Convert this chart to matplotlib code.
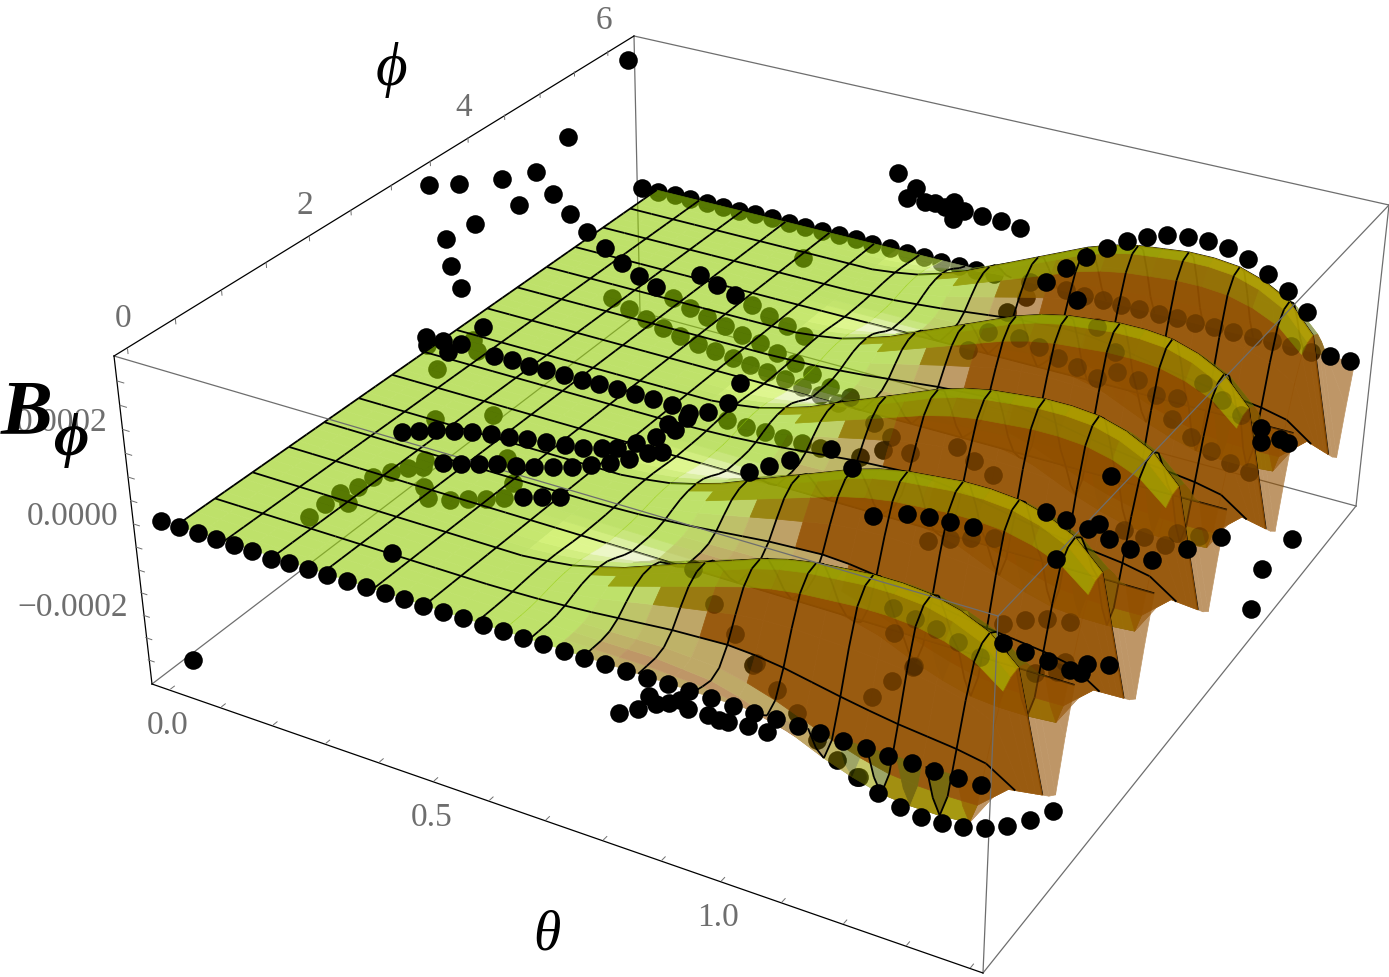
import numpy as np
import matplotlib
matplotlib.use("Agg")
import matplotlib.pyplot as plt
from matplotlib.collections import PolyCollection, LineCollection

# box limits of the plot
theta_lim = [-0.04, 1.42]
phi_lim = [-0.13, 6.41]
b_lim = [-0.00035, 0.00035]

# where the box corners sit on the page (theta, phi, B) -> (x, y)
box_world = [(0, 0, 1), (0, 1, 1), (1, 1, 1), (1, 0, 1), (0, 0, 0), (1, 0, 0), (1, 1, 0), (0, 1, 0)]
box_page = [(114, 356), (634, 36), (1389, 205), (998, 616), (152, 684), (983, 973), (1356, 506), (640, 312)]

# surface values (units of 1e-4)
theta_nodes = np.linspace(0.02, 1.40, 31)
ridge_b = [0, 0, 0, 0, 0, 0, 0, 0, 0, 0, 0, 0, 0.05, 0.12, 0.25, 0.4, 0.6, 0.8, 1.0, 1.2, 1.4, 1.55, 1.65, 1.7, 1.75, 1.75, 1.7, 1.55, 1.3, 0.8, 0]
valley_b = [0, 0, 0, 0, 0, 0, 0, 0, 0, 0, 0, 0, 0, 0, 0, 0, 0, 0, 0, -0.05, -0.1, -0.25, -0.45, -0.7, -0.95, -1.15, -1.3, -1.35, -1.35, -1.3, 0]
ridge_w = [0, 0, 0, 0.06, 0.25, 0.55, 0.82, 0.97, 1, 0.9, 0.6, 0.25]
valley_w = [0, 0.6, 1, 0.9, 0.5, 0.2, 0, 0, 0, 0, 0, 0]
lobe_height = [1.03, 1.1, 1.14, 1.18, 1.24]
edge_b = [0, -0.2, -0.4, -0.6, -0.8, -1.0, -1.2, -1.4, -1.6, -1.8, -1.95, -0.9]  # last theta row, one lobe
deep_from = {14: 7, 15: 6, 16: 6, 17: 5, 18: 5, 19: 4, 20: 4, 21: 3, 22: 3, 23: 3, 24: 3, 25: 3, 26: 2, 27: 2, 28: 2}  # start of the dark part of a lobe, by theta row

theta_ticks = [0.0, 0.5, 1.0]
phi_ticks = [0, 2, 4, 6]
b_ticks = [-0.0002, 0.0, 0.0002]
b_tick_labels = ["\u22120.0002", "0.0000", "0.0002"]

# dots on top of the surface, page positions
front_row = [(161,521),(179,527),(198,533),(216,539),(234,545),(252,551),(271,559),(289,563),(308,569),(327,575),(347,581),(366,587),(385,593),(404,599),(423,606),(443,612),(463,618),(483,625),(503,631),(523,638),(543,644),(564,651),(584,658),(605,664),(626,671),(647,678),(668,684),(689,691),(711,698),(733,706),(754,713),(776,719),(798,726),(820,733),(843,741),(866,748),(888,756),(912,763),(934,771),(958,778),(981,785)]
low_curve = [(878,793),(900,807),(921,817),(942,823),(963,827),(985,828),(1007,826),(1030,820),(1053,811)]
cluster = [(619,713),(638,709),(649,696),(656,704),(669,703),(680,700),(688,709),(708,715),(719,720),(728,722),(748,726),(767,732)]
loose_left = [(628,60),(568,137),(429,185),(459,184),(502,179),(536,172),(553,194),(519,205),(570,214),(475,224),(446,239),(451,266),(461,288),(193,660),(392,553),(483,327),(426,337),(443,341),(461,344),(448,352)]
loose_right = [(898,173),(916,188),(907,198),(925,202),(935,203),(945,207),(954,202),(964,211),(953,219),(982,216),(1001,221),(1020,228)]
back_tail = [(1046,282),(1066,268),(1086,257),(1107,248),(1127,241),(1147,237),(1167,235),(1188,237),(1208,241),(1228,248),(1248,259),(1268,274),(1288,291),(1307,312),(1330,356),(1350,361),(1077,300)]
row_a = [(587,232),(605,248),(622,263),(639,276),(656,287),(700,275),(717,285),(735,295)]
row_b = [(494,356),(512,360),(529,366),(546,370),(564,375),(582,380),(599,384),(617,389),(635,394),(653,399),(672,405),(740,383),(728,403),(708,412),(689,413),(687,418),(668,424),(675,430)]
row_c = [(402,432),(419,431),(436,430),(454,431),(472,432),(491,434),(509,437),(527,439),(546,442),(565,445),(583,448),(602,448),(617,448),(636,443),(656,437),(662,452),(648,453)]
row_d = [(443,463),(461,464),(479,464),(497,464),(516,466),(534,467),(553,467),(572,467),(591,465),(610,463),(629,459),(523,497),(542,497),(560,497)]
lobe_black = [(749,472),(769,466),(790,460),(831,449),(852,468),(873,516),(907,514),(929,517),(950,522),(973,527),(1046,512),(1066,520),(1088,529),(1099,524),(1109,539),(1130,549),(1152,560),(1187,549),(1221,537),(1111,476),(1056,559),(1003,643),(1025,652),(1048,661),(1070,670),(1081,673),(1087,664),(1109,665),(1261,428),(1261,442),(1280,439),(1288,443),(1292,539),(1262,569),(1251,609)]

# dots seen through the surface
back_row = [(642,188),(658,192),(675,195),(690,199),(707,203),(723,207),(739,211),(755,214),(772,218),(789,223),(805,227),(822,231),(839,235),(856,239),(872,244),(890,248),(907,253),(924,257),(941,262),(959,266),(976,270),(994,274),(1026,297)]
under_a = [(673,298),(690,308),(707,317),(725,326),(742,335),(760,343),(777,353),(795,363),(812,374),(830,387),(752,305),(769,316),(787,326),(804,336),(803,258)]
under_b = [(612,298),(629,309),(646,319),(663,328),(680,336),(698,344),(715,351),(733,358),(750,365),(767,372),(785,379),(802,387),(820,395),(838,403),(727,420),(746,427),(765,432),(783,438),(802,443),(820,448)]
under_c = [(309,517),(325,504),(340,493),(348,503),(358,487),(373,477),(391,472),(408,468),(423,467),(424,487),(428,498),(450,500),(468,499),(486,499),(504,498),(513,483),(435,419),(437,369),(427,345),(493,415),(507,458),(473,340),(477,351),(425,460)]
under_d = [(693,569),(714,604),(735,634),(756,663),(777,690),(797,713),(753,665),(817,740),(837,760),(857,777),(872,697),(892,681),(913,667),(914,666),(894,633),(893,608),(915,619),(936,629),(958,642),(980,657),(859,777)]
under_e = [(928,541),(950,539),(971,538),(994,538),(1003,624),(1025,620),(1047,619),(1070,622),(1035,673),(1057,672),(1065,662),(1165,545),(1199,536),(1177,533),(1144,537),(1124,530)]
under_f = [(1030,282),(1066,290),(1084,296),(1103,300),(1121,305),(1139,309),(1159,314),(1177,318),(1195,323),(1214,327),(1233,332),(1253,337),(1272,341),(1291,346),(1311,352),(1007,312),(968,350),(988,332),(1019,338),(1039,347),(1058,358),(1077,367),(1097,378),(1117,372),(1138,380),(1115,352),(1097,327),(1156,395),(1177,398),(1203,383),(1222,400),(1241,415),(1172,419),(1191,437),(1211,451),(1230,463),(1249,472),(957,447),(974,461),(993,475),(910,453),(891,437),(874,423),(883,450),(860,457),(850,397)]

green = np.array([147, 205, 5]) / 255
brown = np.array([147, 80, 0]) / 255
olive = np.array([90, 105, 0]) / 255
yellow = np.array([200, 200, 0]) / 255
bright = np.array([200, 245, 40]) / 255
white = np.array([255, 255, 235]) / 255
gray = "#6e6e6e"
face_alpha = 0.6
serif = "Liberation Serif"

# fit the projection from the box corners
rows = []
rhs = []
for (u, v, w), (px, py) in zip(box_world, box_page):
    rows.append([u, v, w, 1, 0, 0, 0, 0, -px*u, -px*v, -px*w])
    rows.append([0, 0, 0, 0, u, v, w, 1, -py*u, -py*v, -py*w])
    rhs += [px, py]
m = np.linalg.lstsq(np.array(rows, float), np.array(rhs, float), rcond=None)[0]
P = np.append(m, 1).reshape(3, 4)


def project(theta, phi, b):
    u = (np.asarray(theta) - theta_lim[0]) / (theta_lim[1] - theta_lim[0])
    v = (np.asarray(phi) - phi_lim[0]) / (phi_lim[1] - phi_lim[0])
    w = (np.asarray(b) - b_lim[0]) / (b_lim[1] - b_lim[0])
    q = np.stack([u, v, w, np.ones_like(u)], axis=-1) @ P.T
    return q[..., 0] / q[..., 2], q[..., 1] / q[..., 2]


def mix(a, b, t):
    return a + (b - a) * t


def fade(img, dpi):
    # one translucent sheet, so the facets inside it leave no seams
    # (the filter acts twice on a collection, hence the root)
    img = img.copy()
    img[..., 3] *= face_alpha ** 0.5
    return img, 0, 0


# build the table of B on the grid
phi_nodes = np.linspace(0, 2 * np.pi, 61)
rw = np.array([w * h for h in lobe_height for w in ridge_w] + [ridge_w[0]])
vw = np.array(valley_w * 5 + [valley_w[0]])
B = np.outer(ridge_b, rw) + np.outer(valley_b, vw)
B[-1] = np.array(edge_b * 5 + [edge_b[0]])
B = B * 1e-4

T, F = np.meshgrid(theta_nodes, phi_nodes, indexing="ij")
X, Y = project(T, F, B)

fig = plt.figure(figsize=(13.89, 9.77), dpi=100)
ax = fig.add_axes([0, 0, 1, 1])
ax.set_xlim(0, 1389)
ax.set_ylim(977, 0)
ax.axis("off")

# box edges behind the surface
c = {n: box_page[i] for i, n in enumerate("ABCDEFGH")}
for a, b_ in ["BC", "EH", "HG", "HB", "CG", "GF"]:
    ax.plot([c[a][0], c[b_][0]], [c[a][1], c[b_][1]], color=gray, lw=0.9, zorder=1)

under = back_row + under_a + under_b + under_c + under_d + under_e + under_f
ax.scatter(*zip(*under), s=13.4**2, c="k", lw=0, zorder=2)

dtheta = theta_nodes[1] - theta_nodes[0]
dphi = phi_nodes[1] - phi_nodes[0]


def facet_color(i, j):
    if i >= 29:
        return brown
    sp = ((B[i, j+1] + B[i+1, j+1]) - (B[i, j] + B[i+1, j])) / (2 * dphi) / 5e-4
    th = T[i, j] + dtheta / 2
    k = (j + 1) % 12  # 0 and 1 sit just behind a ridge foot
    col = green.copy()
    col = mix(col, yellow, np.clip(1 - abs(sp) / 0.7, 0, 1) * np.clip((th - 1.0) / 0.2, 0, 1))
    col = mix(col, brown, np.clip((sp - 0.3) / 0.5, 0, 1))
    col = mix(col, olive, np.clip((-sp - 0.1) / 0.4, 0, 1))
    near = np.clip(1 - abs(((k + 6.5) % 12) - 6) / 3, 0, 1)
    if j >= 6:
        col = mix(col, bright, np.exp(-((th - 0.58) / 0.07) ** 2) * near)
        col = mix(col, white, np.exp(-((th - 0.67) / 0.06) ** 2) * near)
    if k <= 5:
        tan = np.clip((th - 0.71) / 0.08, 0, 1) * np.clip(1 - abs(k - 2) / 4, 0, 1) * np.clip((1.2 - th) / 0.1, 0, 1)
        col = mix(col, brown, tan)
    return col


def add_sheet(cells, z, mesh=True, color=None):
    # facets as one faded collection, then the mesh lines that belong to them
    polys = []
    cols = []
    segs = []
    for i, j in cells:
        polys.append([(X[i, j], Y[i, j]), (X[i, j+1], Y[i, j+1]), (X[i+1, j+1], Y[i+1, j+1]), (X[i+1, j], Y[i+1, j])])
        cols.append(facet_color(i, j) if color is None else color)
        if i % 2 == 0:
            segs.append([(X[i, j], Y[i, j]), (X[i, j+1], Y[i, j+1])])
        if j % 4 == 0 and j > 0:
            segs.append([(X[i, j], Y[i, j]), (X[i+1, j], Y[i+1, j])])
    pc = PolyCollection(polys, facecolors=cols, edgecolors=cols, linewidths=0.5, zorder=z)
    pc.set_agg_filter(fade)
    ax.add_collection(pc)
    if mesh:
        ax.add_collection(LineCollection(segs, colors="k", linewidths=1.3, zorder=z + 0.01))


# flat part first, then the lobes from the back to the front
z = 3.0
add_sheet([(i, j) for i in range(0, 13) for j in range(60)], z)
for lobe in range(4, -1, -1):
    j0 = lobe * 12
    z += 0.1
    add_sheet([(i, j) for i in range(13, 29) for j in range(j0 + 8, j0 + 12)], z)
    z += 0.1
    add_sheet([(29, j) for j in range(j0 + 8, j0 + 12)], z)
    deep = [(i, j0 + k) for i, first in deep_from.items() for k in range(first, 8)]
    deep += [(29, j0 + k) for k in range(3, 8)]
    for layer in range(2):
        z += 0.1
        add_sheet(deep, z, mesh=False, color=brown)
    z += 0.1
    add_sheet([(i, j) for i in range(13, 29) for j in range(j0, j0 + 8)], z)
    z += 0.1
    add_sheet([(29, j) for j in range(j0, j0 + 8)], z)

# the dots under the lobes still show faintly through the stacked sheets
faint = under_d + under_e + under_f
ax.scatter(*zip(*faint), s=13.4**2, c="k", alpha=0.2, lw=0, zorder=z + 0.5)

# box edges in front
for a, b_ in ["AD", "DC", "DF"]:
    ax.plot([c[a][0], c[b_][0]], [c[a][1], c[b_][1]], color=gray, lw=0.9, zorder=z + 1)
for a, b_ in ["AB", "AE", "EF"]:
    ax.plot([c[a][0], c[b_][0]], [c[a][1], c[b_][1]], color="k", lw=0.9, zorder=z + 1)

over = front_row + low_curve + cluster + loose_left + loose_right + back_tail + row_a + row_b + row_c + row_d + lobe_black
ax.scatter(*zip(*over), s=13.4**2, c="k", lw=0, zorder=z + 2)

# ticks along the three black edges
for t in np.arange(0, 1.41, 0.1):
    x0, y0 = project(t, phi_lim[0], b_lim[0])
    x1, y1 = project(t, phi_lim[0] + 0.04, b_lim[0])
    ax.plot([x0, x1], [y0, y1], color=gray, lw=0.7, zorder=z + 1)
for p in np.arange(0, 6.3, 0.5):
    x0, y0 = project(theta_lim[0], p, b_lim[1])
    x1, y1 = project(theta_lim[0], p, b_lim[1] - 0.00001)
    ax.plot([x0, x1], [y0, y1], color=gray, lw=0.7, zorder=z + 1)
for v in np.arange(-0.0003, 0.00031, 0.00005):
    x0, y0 = project(theta_lim[0], phi_lim[0], v)
    x1, y1 = project(theta_lim[0] + 0.012, phi_lim[0], v)
    ax.plot([x0, x1], [y0, y1], color=gray, lw=0.7, zorder=z + 1)

for t in theta_ticks:
    x0, y0 = project(t, phi_lim[0], b_lim[0])
    ax.text(x0 - 3, y0 + 37, "%.1f" % t, family=serif, fontsize=24, color=gray, ha="center", va="center", zorder=z + 3)
for p in phi_ticks:
    x0, y0 = project(theta_lim[0], p, b_lim[1])
    ax.text(x0 - 4, y0 - 30, "%d" % p, family=serif, fontsize=24, color=gray, ha="center", va="center", zorder=z + 3)
for v, lab in zip(b_ticks, b_tick_labels):
    x0, y0 = project(theta_lim[0], phi_lim[0], v)
    ax.text(x0 - 15, y0 - 7, lab, family=serif, fontsize=24, color=gray, ha="right", va="center", zorder=z + 3)

ax.text(547, 935, "\u03b8", family=serif, style="italic", fontsize=40, color="k", ha="center", va="center", zorder=z + 4)
ax.text(391, 70, "\u03d5", family=serif, style="italic", fontsize=44, color="k", ha="center", va="center", zorder=z + 4)
ax.text(27, 415, "B", family=serif, style="italic", weight="bold", fontsize=56, color="k", ha="center", va="center", zorder=z + 4)
ax.text(71, 440, "\u03d5", family=serif, style="italic", weight="bold", fontsize=44, color="k", ha="center", va="center", zorder=z + 4)

fig.savefig("out.png", dpi=100)
